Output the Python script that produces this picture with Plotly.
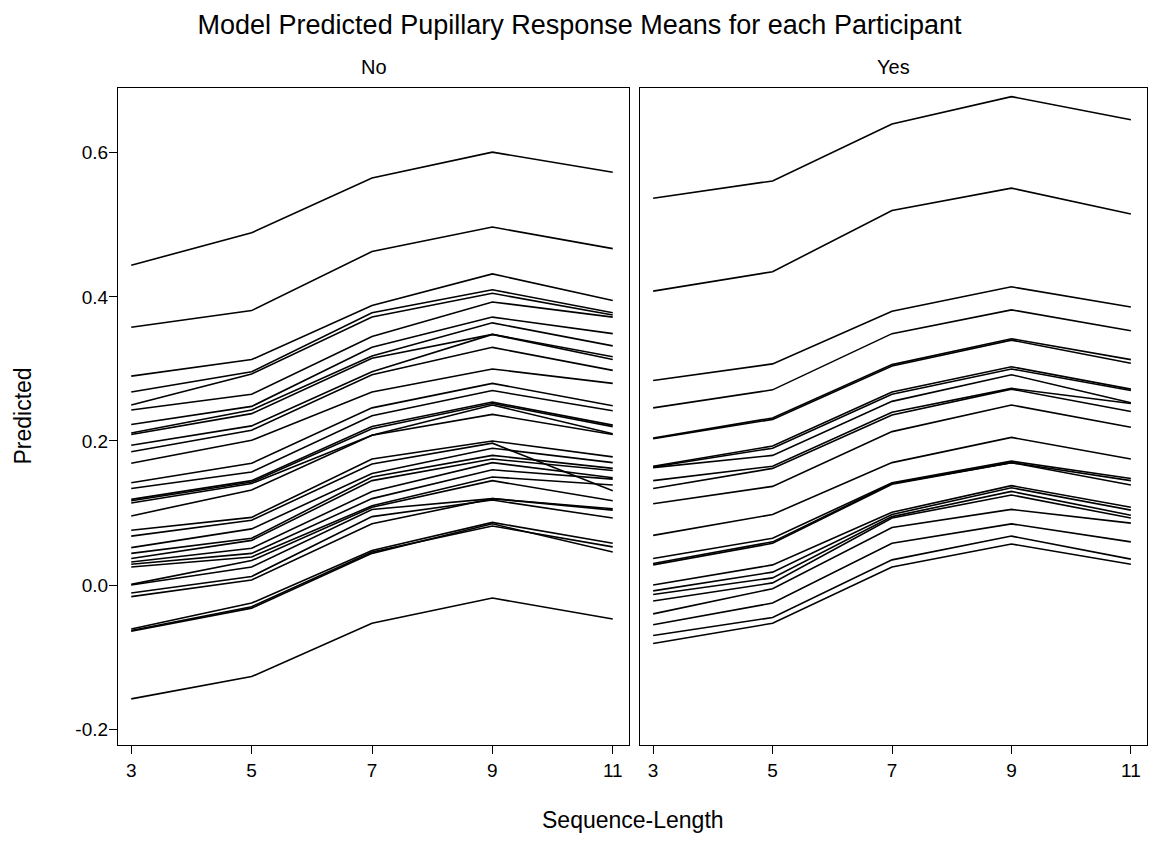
import plotly.graph_objects as go

# Sequence lengths on the x axis
seq_len = [3, 5, 7, 9, 11]

# Predicted pupillary response per participant, condition "No"
no_pred = [
    [0.444, 0.489, 0.565, 0.601, 0.573],
    [0.358, 0.381, 0.463, 0.497, 0.467],
    [0.290, 0.313, 0.388, 0.432, 0.395],
    [0.268, 0.296, 0.378, 0.410, 0.378],
    [0.250, 0.293, 0.372, 0.405, 0.375],
    [0.243, 0.265, 0.345, 0.393, 0.372],
    [0.223, 0.248, 0.330, 0.372, 0.349],
    [0.211, 0.243, 0.318, 0.364, 0.332],
    [0.209, 0.238, 0.315, 0.348, 0.317],
    [0.194, 0.221, 0.296, 0.348, 0.313],
    [0.185, 0.215, 0.292, 0.330, 0.298],
    [0.169, 0.201, 0.268, 0.300, 0.280],
    [0.142, 0.169, 0.246, 0.280, 0.249],
    [0.134, 0.157, 0.235, 0.270, 0.242],
    [0.119, 0.145, 0.220, 0.254, 0.222],
    [0.117, 0.143, 0.217, 0.252, 0.220],
    [0.114, 0.141, 0.208, 0.237, 0.209],
    [0.096, 0.132, 0.208, 0.250, 0.210],
    [0.076, 0.094, 0.175, 0.200, 0.178],
    [0.068, 0.090, 0.168, 0.197, 0.131],
    [0.052, 0.078, 0.155, 0.190, 0.170],
    [0.044, 0.065, 0.150, 0.180, 0.162],
    [0.037, 0.062, 0.145, 0.175, 0.159],
    [0.032, 0.051, 0.130, 0.170, 0.149],
    [0.029, 0.044, 0.120, 0.160, 0.147],
    [0.025, 0.039, 0.110, 0.150, 0.139],
    [0.001, 0.034, 0.108, 0.145, 0.117],
    [0.000, 0.025, 0.105, 0.120, 0.106],
    [-0.011, 0.012, 0.095, 0.118, 0.093],
    [-0.016, 0.007, 0.085, 0.120, 0.104],
    [-0.061, -0.025, 0.048, 0.087, 0.058],
    [-0.063, -0.030, 0.046, 0.082, 0.053],
    [-0.064, -0.032, 0.044, 0.085, 0.046],
    [-0.158, -0.127, -0.053, -0.018, -0.047],
]

# Predicted pupillary response per participant, condition "Yes"
yes_pred = [
    [0.537, 0.561, 0.640, 0.678, 0.646],
    [0.408, 0.435, 0.520, 0.551, 0.515],
    [0.284, 0.307, 0.380, 0.414, 0.386],
    [0.246, 0.271, 0.349, 0.382, 0.353],
    [0.204, 0.232, 0.306, 0.342, 0.313],
    [0.203, 0.230, 0.304, 0.340, 0.308],
    [0.165, 0.193, 0.268, 0.303, 0.272],
    [0.164, 0.190, 0.265, 0.300, 0.270],
    [0.163, 0.180, 0.255, 0.292, 0.253],
    [0.145, 0.165, 0.240, 0.273, 0.252],
    [0.134, 0.162, 0.236, 0.272, 0.241],
    [0.113, 0.137, 0.213, 0.250, 0.219],
    [0.069, 0.098, 0.170, 0.205, 0.175],
    [0.037, 0.065, 0.142, 0.172, 0.148],
    [0.030, 0.060, 0.141, 0.170, 0.145],
    [0.028, 0.058, 0.140, 0.170, 0.139],
    [0.000, 0.028, 0.101, 0.138, 0.108],
    [-0.008, 0.018, 0.098, 0.135, 0.104],
    [-0.013, 0.010, 0.095, 0.130, 0.097],
    [-0.022, 0.003, 0.093, 0.125, 0.093],
    [-0.040, -0.005, 0.080, 0.105, 0.086],
    [-0.055, -0.025, 0.058, 0.085, 0.060],
    [-0.070, -0.045, 0.035, 0.068, 0.036],
    [-0.081, -0.053, 0.025, 0.057, 0.029],
]

panel_titles = ["No", "Yes"]
y_ticks = [-0.2, 0.0, 0.2, 0.4, 0.6]
y_tick_text = ["-0.2", "0.0", "0.2", "0.4", "0.6"]

FONT = "Arial, Liberation Sans, Helvetica, sans-serif"

fig = go.Figure()

for series, (xa, ya) in ((no_pred, ("x", "y")), (yes_pred, ("x2", "y2"))):
    for vals in series:
        fig.add_trace(go.Scatter(
            x=seq_len, y=vals, mode="lines", xaxis=xa, yaxis=ya,
            line=dict(color="black", width=1.6), showlegend=False,
            hoverinfo="skip",
        ))

x_range = [2.78, 11.27]
y_range = [-0.222, 0.690]

common_x = dict(
    range=x_range, tickvals=seq_len, ticktext=[str(v) for v in seq_len],
    ticks="outside", ticklen=8, tickwidth=1, tickcolor="black",
    showline=True, linecolor="black", linewidth=1.2, mirror=True,
    showgrid=False, zeroline=False,
    tickfont=dict(family=FONT, size=19, color="black"),
)
common_y = dict(
    range=y_range, showline=True, linecolor="black", linewidth=1.2,
    mirror=True, showgrid=False, zeroline=False,
)

fig.update_layout(
    width=1159, height=846,
    paper_bgcolor="white", plot_bgcolor="white",
    margin=dict(l=118, r=12, t=88, b=101),
    font=dict(family=FONT, color="black"),
    title=dict(
        text="Model Predicted Pupillary Response Means for each Participant",
        x=0.5, xanchor="center", y=1 - 25 / 846, yanchor="middle",
        font=dict(family=FONT, size=27, color="black"),
    ),
    xaxis=dict(domain=[0, 0.4966], anchor="y", **common_x),
    xaxis2=dict(domain=[0.5073, 1], anchor="y2", **common_x),
    yaxis=dict(
        anchor="x", tickvals=y_ticks, ticktext=y_tick_text,
        ticks="outside", ticklen=8, tickwidth=1, tickcolor="black",
        ticklabelstandoff=-3,
        tickfont=dict(family=FONT, size=19, color="black"),
        **common_y,
    ),
    yaxis2=dict(anchor="x2", matches="y", showticklabels=False, ticks="", **common_y),
    annotations=[
        dict(text=panel_titles[0], xref="x domain", yref="paper", x=0.5, y=1,
             xanchor="center", yanchor="middle", yshift=21, showarrow=False,
             font=dict(family=FONT, size=20, color="black")),
        dict(text=panel_titles[1], xref="x2 domain", yref="paper", x=0.5, y=1,
             xanchor="center", yanchor="middle", yshift=21, showarrow=False,
             font=dict(family=FONT, size=20, color="black")),
        dict(text="Sequence-Length", xref="paper", yref="paper", x=0.5, y=0,
             xanchor="center", yanchor="middle", yshift=-75, showarrow=False,
             font=dict(family=FONT, size=23, color="black")),
        dict(text="Predicted", xref="paper", yref="paper", x=0, y=0.5,
             xanchor="center", yanchor="middle", xshift=-96, showarrow=False,
             textangle=-90, font=dict(family=FONT, size=23, color="black")),
    ],
)

fig.write_html("out.html")
